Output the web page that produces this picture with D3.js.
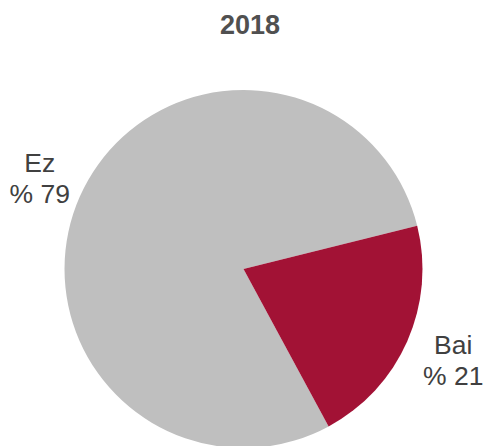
<!DOCTYPE html>
<html>
<head>
<meta charset="utf-8">
<script src="https://cdn.jsdelivr.net/npm/d3@7"></script>
<style>
  html, body { margin: 0; padding: 0; background: #ffffff; }
  svg { display: block; }
</style>
</head>
<body>
<div id="chart"></div>
<script>
// Chart data
const title = "2018";
const categories = ["Ez", "Bai"];
const values = [79, 21];
const colors = ["#BFBFBF", "#A21235"];

const width = 487, height = 446;
const cx = 243.5, cy = 269, radius = 179;
const startDeg = 151.6;

const svg = d3.select("#chart").append("svg")
  .attr("width", width)
  .attr("height", height);

svg.append("text")
  .attr("x", 250)
  .attr("y", 33.5)
  .attr("text-anchor", "middle")
  .attr("font-family", "Liberation Sans, Arial, sans-serif")
  .attr("font-size", 27)
  .attr("font-weight", "bold")
  .attr("fill", "#505050")
  .text(title);

const pie = d3.pie()
  .sort(null)
  .value(d => d.value)
  .startAngle(startDeg * Math.PI / 180)
  .endAngle(startDeg * Math.PI / 180 + 2 * Math.PI);

const data = categories.map((c, i) => ({ name: c, value: values[i], color: colors[i] }));
const arcs = pie(data);

const arc = d3.arc().innerRadius(0).outerRadius(radius);
const g = svg.append("g").attr("transform", `translate(${cx},${cy})`);

g.selectAll("path.slice")
  .data(arcs)
  .join("path")
  .attr("class", "slice")
  .attr("d", arc)
  .attr("fill", d => d.data.color);

// Labels placed outside the slice edge, along the mid angle
const labelR = 226;
const labels = g.selectAll("text.lbl")
  .data(arcs)
  .join("text")
  .attr("class", "lbl")
  .attr("text-anchor", "middle")
  .attr("font-family", "Liberation Sans, Arial, sans-serif")
  .attr("font-size", 26.5)
  .attr("fill", "#404040")
  .each(function(d) {
    const a = (d.startAngle + d.endAngle) / 2;
    const x = Math.sin(a) * labelR + 3;
    const y = -Math.cos(a) * labelR;
    const t = d3.select(this);
    t.append("tspan").attr("x", x).attr("y", y - 6).text(d.data.name);
    t.append("tspan").attr("x", x).attr("y", y + 25).text("% " + d.data.value);
  });
</script>
</body>
</html>
